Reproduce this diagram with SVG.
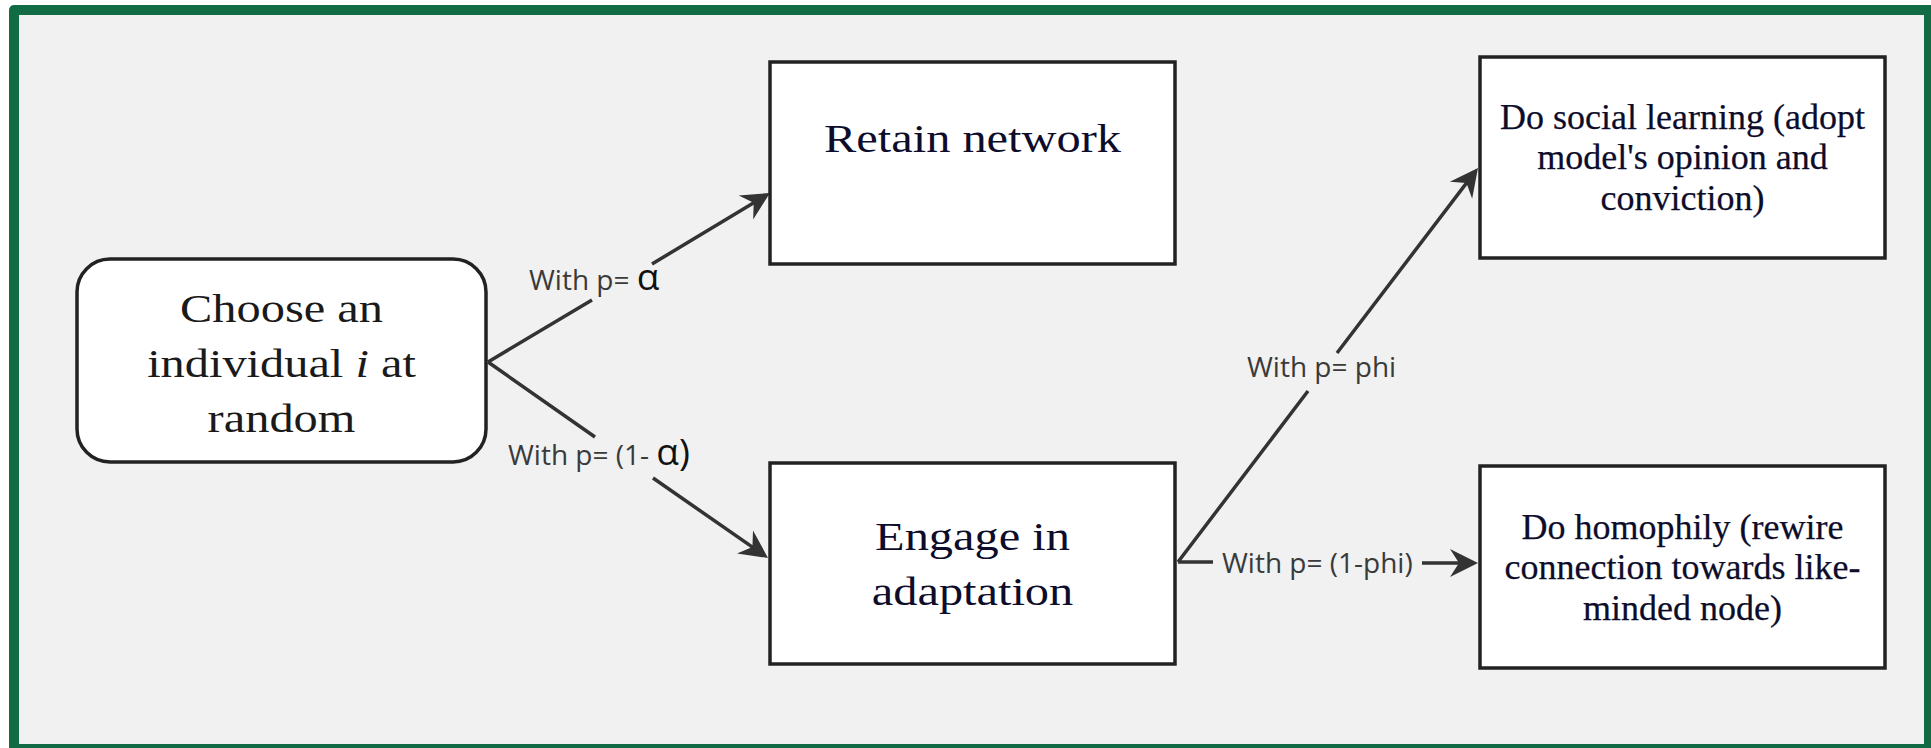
<svg xmlns="http://www.w3.org/2000/svg" width="1931" height="748" viewBox="0 0 1931 748">
<style>
.box{fill:#ffffff;stroke:#222222;stroke-width:3.5}
.big{font-family:"Liberation Serif","Times New Roman",serif;font-size:40px;text-anchor:middle}
.mid{font-family:"Liberation Serif","Times New Roman",serif;font-size:36px;fill:#0d0d2b;stroke:#0d0d2b;stroke-width:0.25;text-anchor:middle}
.lbl{font-family:"Open Sans","Noto Sans",sans-serif;font-size:28px;fill:#3a3a3a}
.gk{font-size:37px;fill:#111111}
.conn{fill:none;stroke:#333333;stroke-width:3.5}
</style>
<defs>
<marker id="ah" markerUnits="userSpaceOnUse" viewBox="-30 -16 32 32" refX="-15" refY="0" markerWidth="32" markerHeight="32" orient="auto">
<path d="M0,0 L-28,-14 L-19,0 L-28,14 Z" fill="#333333"/>
</marker>
</defs>
<rect x="0" y="0" width="1931" height="748" fill="#ffffff"/>
<rect x="9" y="5" width="1940" height="770" rx="5" fill="#116b45"/>
<rect x="19" y="15" width="1905" height="729" fill="#f1f1f1"/>

<g id="connectors">
<path class="conn" d="M488,362 L592,300 M652,264 L757.1,200.7" marker-end="url(#ah)"/>
<path class="conn" d="M488,362 L595,437 M653,478 L755.7,549.4" marker-end="url(#ah)"/>
<path class="conn" d="M1178,562 L1308,391 M1337,353 L1468.9,179.9" marker-end="url(#ah)"/>
<path class="conn" d="M1178,562 L1213,562 M1422,563 L1463,563" marker-end="url(#ah)"/>
<text class="lbl" x="529" y="290">With p= <tspan class="gk">α</tspan></text>
<text class="lbl" x="508" y="465">With p= (1- <tspan class="gk">α)</tspan></text>
<text class="lbl" x="1247" y="377">With p= phi</text>
<text class="lbl" x="1222" y="573">With p= (1-phi)</text>
</g>

<g id="choose">
<rect class="box" x="77" y="259" width="409" height="203" rx="33"/>
<g transform="translate(281.5,0) scale(1.21,1)" class="big" fill="#1a1a1a">
<text x="0" y="322">Choose an</text>
<text x="0" y="377">individual <tspan font-style="italic">i</tspan> at</text>
<text x="0" y="432">random</text>
</g>
</g>

<g id="retain">
<rect class="box" x="770" y="62" width="405" height="202"/>
<g transform="translate(972.5,0) scale(1.21,1)" class="big" fill="#0d0d2b">
<text x="0" y="152">Retain network</text>
</g>
</g>

<g id="engage">
<rect class="box" x="770" y="463" width="405" height="201"/>
<g transform="translate(972.5,0) scale(1.21,1)" class="big" fill="#0d0d2b">
<text x="0" y="550">Engage in</text>
<text x="0" y="605">adaptation</text>
</g>
</g>

<g id="social">
<rect class="box" x="1480" y="57" width="405" height="201"/>
<text class="mid" x="1682.5" y="129">Do social learning (adopt</text>
<text class="mid" x="1682.5" y="169">model's opinion and</text>
<text class="mid" x="1682.5" y="210">conviction)</text>
</g>

<g id="homophily">
<rect class="box" x="1480" y="466" width="405" height="202"/>
<text class="mid" x="1682.5" y="539">Do homophily (rewire</text>
<text class="mid" x="1682.5" y="579">connection towards like-</text>
<text class="mid" x="1682.5" y="620">minded node)</text>
</g>
</svg>
